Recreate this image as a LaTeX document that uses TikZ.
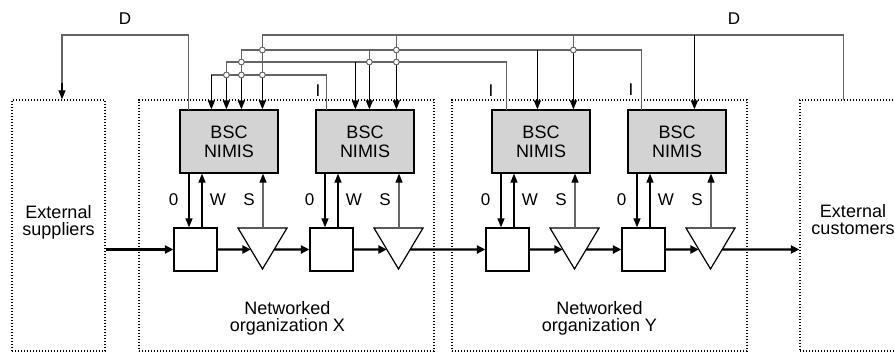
\documentclass[tikz,border=0pt]{standalone}
\usepackage{fontspec}
\setmainfont{Liberation Sans}
\usetikzlibrary{arrows.meta,calc}
\definecolor{busgray}{RGB}{100,100,100}
\definecolor{boxgray}{RGB}{211,211,211}

\begin{document}
\begin{tikzpicture}[x=1pt,y=-1pt,
  txt/.style={font=\fontsize{18}{17.5}\selectfont, inner sep=0pt, align=center},
  lab/.style={font=\fontsize{17}{17}\selectfont, inner sep=0pt, anchor=base},
  region/.style={draw, line width=1.3pt, dash pattern=on 1.3pt off 1.7pt, inner sep=0pt},
  bsc/.style={draw, line width=1.2pt, fill=boxgray, minimum width=98pt, minimum height=63pt,
    inner sep=0pt, align=center, font=\fontsize{18}{19}\selectfont},
  stock/.style={draw, line width=1.2pt, fill=white, minimum size=43pt, inner sep=0pt},
  valve/.style={draw, line width=1.2pt, fill=white, line join=miter},
  flow/.style={line width=2.3pt, -{Triangle[length=8.5pt,width=8pt]}},
  sig/.style={line width=1.2pt, -{Triangle[length=9pt,width=7pt,color=black]}},
  bus/.style={line width=1.2pt, draw=busgray, line cap=rect},
  junc/.style={circle, draw=busgray, fill=white, line width=1pt, minimum size=5.8pt, inner sep=0pt},
]
\useasboundingbox (0,0) rectangle (895,354);
\clip (0,0) rectangle (895,354);

% dotted system boundaries
\node[region, minimum width=93pt,  minimum height=251pt] (sup)  at (58.5,225.5) {};
\node[region, minimum width=295pt, minimum height=251pt] (orgX) at (286.5,225.5) {};
\node[region, minimum width=295pt, minimum height=251pt] (orgY) at (599.5,225.5) {};
\node[region, minimum width=110pt, minimum height=251pt] (cust) at (855,225.5) {};

\node[txt] (supT)  at (58.5,222.4)  {External\\suppliers};
\node[txt] (custT) at (853,219.5)   {External\\customers};
\node[txt] (orgXT) at (287.5,318.4) {Networked\\organization X};
\node[txt] (orgYT) at (599.5,318.4) {Networked\\organization Y};

% one control unit: BSC box, stock, valve and their signals
\foreach \i/\L in {1/180,2/316,3/492,4/628}{
  \node[bsc] (b\i) at ({\L+49},141.5) {BSC\\NIMIS};
  \node[stock] (q\i) at ({\L+15.5},249.5) {};
  \coordinate (tl\i) at ({\L+58},228);
  \coordinate (tr\i) at ({\L+107},228);
  \coordinate (ta\i) at ({\L+82.5},269);
  \draw[valve] (tl\i) -- (tr\i) -- (ta\i) -- cycle;
  \coordinate (ti\i) at ($(tl\i)!0.524!(ta\i)$);
  \coordinate (to\i) at ($(tr\i)!0.524!(ta\i)$);
  \coordinate (o\i) at ({\L+9},173);
  \coordinate (w\i) at ({\L+22},228);
  \coordinate (s\i) at ({\L+83},228);
  \draw[sig] (o\i) -- (o\i |- q\i.north);
  \draw[sig] (w\i) -- (w\i |- b\i.south);
  \draw[sig, draw=busgray] (s\i) -- (s\i |- b\i.south);
  \node[lab] (lo\i) at ({\L-6.5},205) {0};
  \node[lab] (lw\i) at ({\L+38},205) {W};
  \node[lab] (ls\i) at ({\L+69},205) {S};
}

% material flow
\draw[flow] (sup.east |- q1.west) -- (q1.west);
\foreach \i in {1,...,4} \draw[flow] (q\i.east) -- (ti\i);
\draw[flow] (to1) -- (q2.west);
\draw[flow] (to2) -- (q3.west);
\draw[flow] (to3) -- (q4.west);
\draw[flow] (to4) -- (cust.west |- q4.east);

% taps on the box tops
\coordinate (d1)  at ($(b1.north west)+(9,0)$);
\coordinate (t1a) at ($(b1.north west)+(32,0)$);
\coordinate (t1b) at ($(b1.north west)+(47,0)$);
\coordinate (t1c) at ($(b1.north west)+(62,0)$);
\coordinate (t1d) at ($(b1.north west)+(83,0)$);
\coordinate (i2)  at ($(b2.north west)+(11,0)$);
\coordinate (t2a) at ($(b2.north west)+(40,0)$);
\coordinate (t2b) at ($(b2.north west)+(54,0)$);
\coordinate (t2c) at ($(b2.north west)+(81,0)$);
\coordinate (i3)  at ($(b3.north west)+(15,0)$);
\coordinate (t3a) at ($(b3.north west)+(46,0)$);
\coordinate (t3b) at ($(b3.north west)+(82,0)$);
\coordinate (i4)  at ($(b4.north west)+(14,0)$);
\coordinate (t4a) at ($(b4.north west)+(67,0)$);
\coordinate (ds)  at ($(sup.north)+(3.5,0)$);
\coordinate (dc)  at ($(cust.north west)+(44,0)$);
\coordinate (lvA) at (0,35);
\coordinate (lvB) at (0,50);
\coordinate (lvC) at (0,62);
\coordinate (lvD) at (0,75);

% information buses
\draw[bus] (d1) |- (ds |- lvA) -- ($(ds)+(0,-16)$);
\draw[sig] ($(ds)+(0,-16)$) -- (ds);
\draw[bus] (dc) |- (t1d |- lvA) -- (t1d |- lvD);
\draw[bus] (t2c |- lvA) -- (t2c |- lvC);
\draw[bus] (t3b |- lvA) -- (t3b |- lvB);
\draw[bus] (i4) |- (t1c |- lvB) -- (t1c |- lvD);
\draw[bus] (t2b |- lvB) -- (t2b |- lvC);
\draw[bus] (i3) |- (t1b |- lvC) -- (t1b |- lvD);
\draw[bus] (i2) |- (t1a |- lvD);

% inputs into the BSC boxes
\draw[sig] (t1a |- lvD) -- (t1a);
\draw[sig] (t1b |- lvD) -- (t1b);
\draw[sig] (t1c |- lvD) -- (t1c);
\draw[sig] (t1d |- lvD) -- (t1d);
\draw[sig] (t2a |- lvC) -- (t2a);
\draw[sig] (t2b |- lvC) -- (t2b);
\draw[sig] (t2c |- lvC) -- (t2c);
\draw[sig] (t3a |- lvB) -- (t3a);
\draw[sig] (t3b |- lvB) -- (t3b);
\draw[sig] (t4a |- lvA) -- (t4a);

% junctions
\foreach \p/\l in {t1d/lvB, t1d/lvD, t1c/lvC, t1c/lvD, t1b/lvD, t2b/lvC, t2c/lvB, t2c/lvC, t3b/lvB}
  \node[junc] (j\p\l) at (\p |- \l) {};

% signal labels
\node[lab] (lD1) at (125,24) {D};
\node[lab] (lD2) at (734,24) {D};
\node[lab] (lI2) at (318,96) {I};
\node[lab] (lI3) at (491,96) {I};
\node[lab] (lI4) at (631,95) {I};
\end{tikzpicture}
\end{document}
